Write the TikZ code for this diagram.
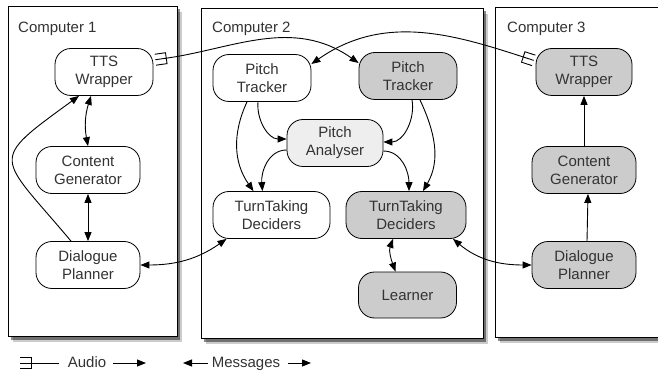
\documentclass[tikz,border=0pt]{standalone}
\usepackage{fontspec}
\setmainfont{Liberation Sans}
\usepackage{tikz}
\usetikzlibrary{positioning,arrows.meta,shadows}
\usepackage{xcolor}
\definecolor{ink}{HTML}{333333}
\definecolor{remotegray}{HTML}{CCCCCC}
\definecolor{palegray}{HTML}{EEEEEE}

% audio plug tip
\pgfdeclarearrow{
  name = Plug,
  setup code = {
    \pgfarrowssettipend{0pt}
    \pgfarrowssetlineend{-13pt}
    \pgfarrowssetbackend{-13.5pt}
    \pgfarrowshullpoint{0pt}{5.5pt}
    \pgfarrowshullpoint{0pt}{-5.5pt}
    \pgfarrowshullpoint{-13pt}{5.5pt}
    \pgfarrowshullpoint{-13pt}{-5.5pt}
  },
  drawing code = {
    \pgfsetdash{}{0pt}
    \pgfsetmiterjoin
    \pgfpathmoveto{\pgfqpoint{-2pt}{5.5pt}}
    \pgfpathlineto{\pgfqpoint{-13pt}{5.5pt}}
    \pgfpathlineto{\pgfqpoint{-13pt}{-5.5pt}}
    \pgfpathlineto{\pgfqpoint{-2pt}{-5.5pt}}
    \pgfpathmoveto{\pgfqpoint{-2pt}{0pt}}
    \pgfpathlineto{\pgfqpoint{-13pt}{0pt}}
    \pgfusepathqstroke
  }
}

\tikzset{
  computer/.style={draw=black, line width=0.8pt, fill=white,
    drop shadow={shadow xshift=5pt, shadow yshift=-6pt, opacity=.2, fill=black},
    drop shadow={shadow xshift=3pt, shadow yshift=-3.5pt, opacity=.45, fill=black}},
  boxtitle/.style={anchor=base west, inner sep=0pt, text=ink, font=\fontsize{15}{18}\selectfont},
  module/.style={draw=black, line width=0.8pt, fill=white, rounded corners=16pt,
    minimum width=98pt, minimum height=47pt, inner sep=2pt, align=center,
    text=ink, font=\fontsize{15}{18}\selectfont},
  remote/.style={module, fill=remotegray},
  legend/.style={inner sep=0pt, anchor=base, text height=11pt, text depth=3pt,
    text=ink, font=\fontsize{15}{18}\selectfont},
  msg/.style={line width=0.9pt, -{Triangle[length=9pt,width=7pt]}},
  dmsg/.style={line width=0.9pt, {Triangle[length=9pt,width=7pt]}-{Triangle[length=9pt,width=7pt]}},
  audio/.style={line width=0.9pt, {Plug}-{Triangle[length=9pt,width=7pt]}},
}

\begin{document}
\begin{tikzpicture}[x=1pt, y=1pt]
\useasboundingbox (0,0) rectangle (658,-374);

% machines
\draw[computer] (8,-6) rectangle (177,-336);
\draw[computer] (201,-8) rectangle (483,-338);
\draw[computer] (495,-7) rectangle (672,-337);
\node[boxtitle] (title1) at (18,-33) {Computer 1};
\node[boxtitle] (title2) at (212,-33) {Computer 2};
\node[boxtitle] (title3) at (507,-33) {Computer 3};

% computer 1
\node[module] (tts1) at (104,-72) {TTS\\Wrapper};
\node[module, minimum width=104pt] (cg1) at (88,-170) {Content\\Generator};
\node[module, minimum width=104pt] (dp1) at (88,-265) {Dialogue\\Planner};

% computer 2
\node[module] (ptw) at (262,-78) {Pitch\\Tracker};
\node[remote] (ptg) at (408,-76) {Pitch\\Tracker};
\node[module, fill=palegray, minimum width=96pt] (pa) at (335,-143) {Pitch\\Analyser};
\node[module, minimum width=117pt] (ttw) at (271.5,-215) {TurnTaking\\Deciders};
\node[remote, minimum width=120pt] (ttg) at (406,-215) {TurnTaking\\Deciders};
\node[remote, minimum height=46pt] (learner) at (407.5,-295) {Learner};

% computer 3
\node[remote, minimum width=96pt] (tts3) at (584,-72) {TTS\\Wrapper};
\node[remote, minimum width=104pt] (cg3) at (584,-170) {Content\\Generator};
\node[remote, minimum width=104pt] (dp3) at (584,-265) {Dialogue\\Planner};

% messages
\draw[dmsg] ([xshift=-13pt]tts1.south) to[bend right=14] (cg1.north);
\draw[dmsg] (cg1.south) -- (dp1.north);
\draw[msg] ([xshift=-17pt]dp1.north) to[out=130, in=-144, looseness=2] ([xshift=-25pt]tts1.south);
\draw[dmsg] (dp1.east) to[out=0, in=-145] ([xshift=-45pt]ttw.south);

\draw[msg] ([xshift=-15pt]ptw.south) to[out=-115, in=125] ([xshift=-18pt]ttw.north);
\draw[msg] ([xshift=-4pt]ptw.south) to[out=-95, in=180] ([yshift=4pt]pa.west);
\draw[msg] ([yshift=-7pt]pa.west) to[out=180, in=95] ([xshift=-9pt]ttw.north);
\draw[msg] ([xshift=4pt]ptg.south) to[out=-80, in=0] ([yshift=1pt]pa.east);
\draw[msg] ([xshift=12pt]ptg.south) to[out=-65, in=60] ([xshift=17pt]ttg.north);
\draw[msg] ([yshift=-8pt]pa.east) to[out=0, in=90] ([xshift=3pt]ttg.north);
\draw[dmsg] ([xshift=-13pt]ttg.south) to[out=-110, in=110] ([xshift=-12pt]learner.north);
\draw[dmsg] ([xshift=47pt]ttg.south) to[out=-40, in=180] (dp3.west);

\draw[msg] ([xshift=3pt]dp3.north) -- ([xshift=4pt]cg3.south);
\draw[msg] (cg3.north) -- (tts3.south);

% audio
\draw[audio] ([yshift=12pt]tts1.east) to[out=8, in=145] ([yshift=13pt]ptg.west);
\draw[audio] ([yshift=11pt]tts3.west) to[out=162, in=35] ([yshift=14pt]ptw.east);

% legend
\coordinate (plugtip) at (18,-363);
\node[legend] (audiotext) at (87,-367) {Audio};
\coordinate (audiotip) at (146,-363);
\coordinate (msgtipl) at (183,-363);
\node[legend] (msgtext) at (246,-367) {Messages};
\coordinate (msgtipr) at (311,-363);
\draw[line width=0.9pt, {Plug}-] (plugtip) -- ([xshift=-9pt]audiotext.west);
\draw[msg] ([xshift=7pt]audiotext.east) -- (audiotip);
\draw[msg] ([xshift=-4pt]msgtext.west) -- (msgtipl);
\draw[msg] ([xshift=8pt]msgtext.east) -- (msgtipr);
\end{tikzpicture}
\end{document}
